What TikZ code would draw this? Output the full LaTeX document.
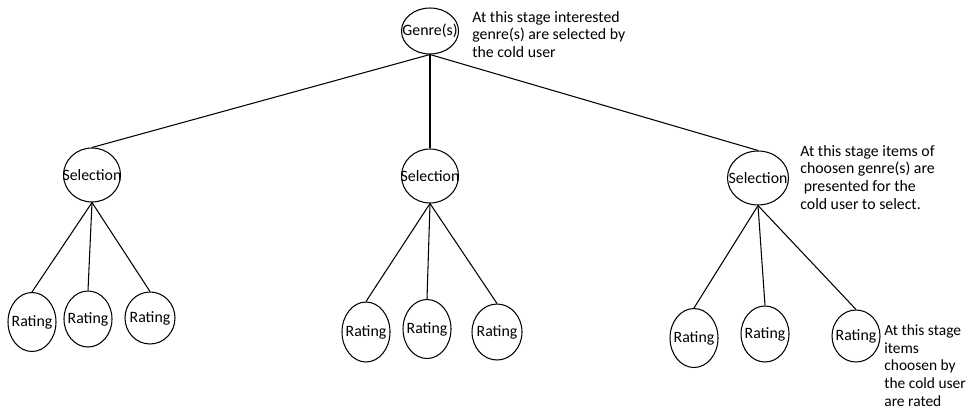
\documentclass[tikz,border=0pt]{standalone}
\usepackage{fontspec}
\setmainfont{Carlito}
\usetikzlibrary{shapes.geometric,positioning}

\begin{document}
\begin{tikzpicture}[x=0.02cm, y=-0.02cm,
    oval/.style={draw, ellipse, inner sep=0pt, line width=0.6pt},
    bigoval/.style={oval, minimum width=57*0.02cm, minimum height=54*0.02cm},
    smalloval/.style={oval, minimum width=48*0.02cm, minimum height=56*0.02cm},
    note/.style={anchor=north west, inner sep=0pt, align=left, font=\fontsize{9}{10}\selectfont},
    every label/.style={font=\fontsize{9}{10}\selectfont, inner sep=0pt},
    link/.style={line width=0.6pt}]
\useasboundingbox (0,0) rectangle (969,409);

% genre level
\node[bigoval, minimum height=46*0.02cm, label=center:Genre(s)] (genre) at (430,31) {};
\node[note] (genrenote) at (472,11) {At this stage interested\\genre(s) are selected by\\the cold user};

% selection level
\node[bigoval, label=center:Selection] (sel1) at (92,175) {};
\node[bigoval, label=center:Selection] (sel2) at (430,176) {};
\node[bigoval, minimum width=61*0.02cm, label=center:Selection] (sel3) at (758,178) {};
\node[note] (selnote) at (800,145) {At this stage items of\\choosen genre(s) are\\\hspace{2pt}presented for the\\cold user to select.};

% rating level
\node[smalloval, minimum height=59*0.02cm, label=center:Rating] (r11) at (32,322) {};
\node[smalloval, label=center:Rating] (r12) at (88,319) {};
\node[smalloval, minimum width=50*0.02cm, minimum height=52*0.02cm, label=center:Rating] (r13) at (150,318) {};
\node[smalloval, minimum height=60*0.02cm, label=center:Rating] (r21) at (366,332) {};
\node[smalloval, minimum height=59*0.02cm, label=center:Rating] (r22) at (427,329) {};
\node[smalloval, minimum width=50*0.02cm, label=center:Rating] (r23) at (497,332) {};
\node[smalloval, minimum height=59*0.02cm, label=center:Rating] (r31) at (694,338) {};
\node[smalloval, label=center:Rating] (r32) at (765,334) {};
\node[smalloval, minimum height=52*0.02cm, label=center:Rating] (r33) at (856,336) {};
\node[note, font=\fontsize{8.8}{10.2}\selectfont] (ratenote) at (884,324) {At this stage\\items\\choosen by\\the cold user\\are rated};

% links
\foreach \s in {sel1,sel2,sel3}
  \draw[link] (genre.south) -- (\s.north);
\foreach \s in {1,2,3}
  \foreach \r in {1,2,3}
    \draw[link] (sel\s.south) -- (r\s\r.north);
\end{tikzpicture}
\end{document}
